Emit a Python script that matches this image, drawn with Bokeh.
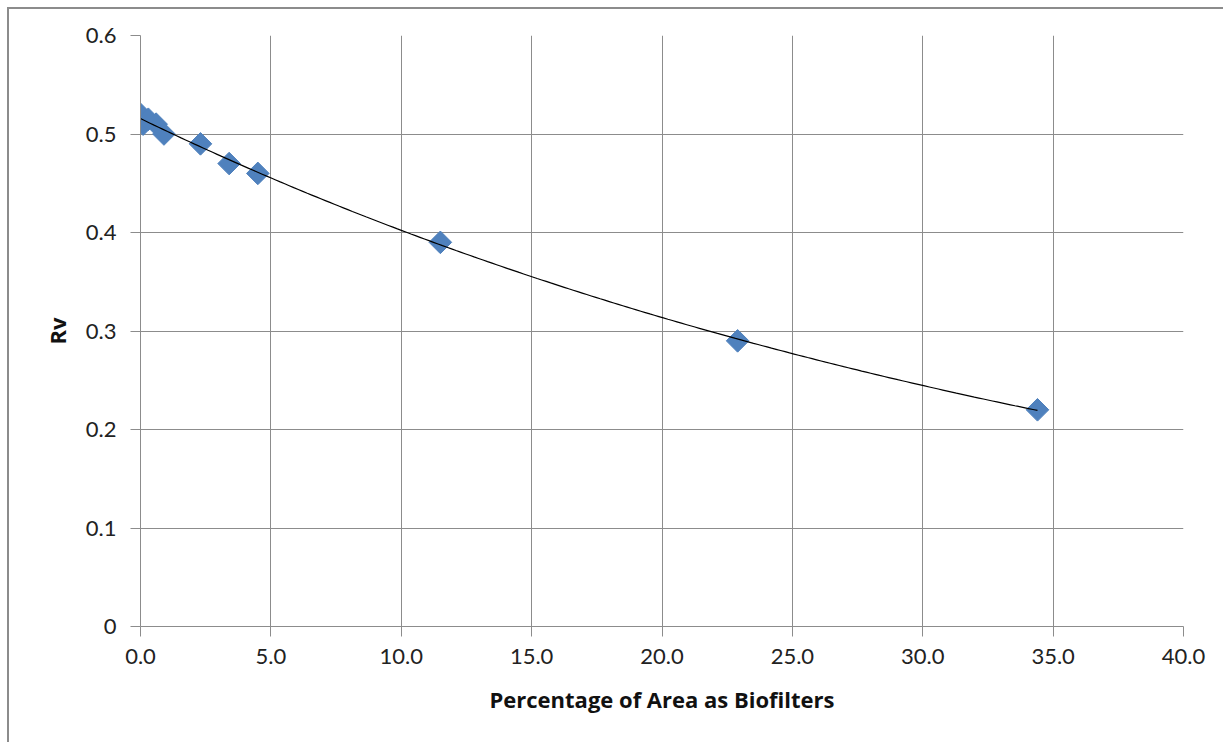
import numpy as np
from bokeh.plotting import figure
from bokeh.models import ColumnDataSource, FixedTicker, CustomJSTickFormatter, Range1d
from bokeh.embed import file_html
from bokeh.resources import INLINE

# Data
pct_area = [0.0, 0.1, 0.3, 0.6, 0.9, 2.3, 3.4, 4.5, 11.5, 22.9, 34.4]
rv = [0.52, 0.51, 0.515, 0.51, 0.50, 0.49, 0.47, 0.46, 0.39, 0.29, 0.22]
x_ticks = [0, 5, 10, 15, 20, 25, 30, 35, 40]
y_ticks = [0, 0.1, 0.2, 0.3, 0.4, 0.5, 0.6]

# Exponential trendline fitted to the data
xa = np.array(pct_area)
ya = np.array(rv)
b, ln_a = np.polyfit(xa, np.log(ya), 1)
tx = np.linspace(xa.min(), xa.max(), 200)
ty = np.exp(ln_a) * np.exp(b * tx)

FONT = "Lato"
GRID = "#8c8c8c"

p = figure(width=1216, height=735, output_backend="svg", toolbar_location=None,
           x_range=Range1d(0, 40), y_range=Range1d(0, 0.6),
           min_border_left=131, min_border_right=42, min_border_top=26, min_border_bottom=118)
p.margin = (7, 0, 0, 7)
p.styles = {"border-left": "2px solid #8c8c8c", "border-top": "2px solid #8c8c8c"}

p.outline_line_color = None
p.background_fill_color = "white"
p.border_fill_color = "white"

p.xaxis.ticker = FixedTicker(ticks=x_ticks)
p.yaxis.ticker = FixedTicker(ticks=y_ticks)
p.xgrid.ticker = FixedTicker(ticks=x_ticks)
p.ygrid.ticker = FixedTicker(ticks=y_ticks)
p.xaxis.formatter = CustomJSTickFormatter(code="return tick.toFixed(1);")
p.yaxis.formatter = CustomJSTickFormatter(code="return tick === 0 ? '0' : tick.toFixed(1);")

for g in (p.xgrid, p.ygrid):
    g.grid_line_color = GRID
    g.grid_line_width = 1

for ax in (p.xaxis, p.yaxis):
    ax.axis_line_color = GRID
    ax.major_tick_line_color = GRID
    ax.major_tick_out = 10
    ax.major_tick_in = 0
    ax.minor_tick_line_color = None
    ax.major_label_text_font = FONT
    ax.major_label_text_font_size = "22px"
    ax.major_label_text_color = "#222222"
    ax.axis_label_text_font = "Open Sans"
    ax.axis_label_text_font_size = "22px"
    ax.axis_label_text_font_style = "bold"
    ax.axis_label_text_color = "#111111"

p.xaxis.axis_label = "Percentage of Area as Biofilters"
p.yaxis.axis_label = "Rv"
p.xaxis.major_label_standoff = 12
p.yaxis.major_label_standoff = 14
p.xaxis.axis_label_standoff = 17
p.yaxis.axis_label_standoff = 11

src = ColumnDataSource(data=dict(x=pct_area, y=rv))
p.scatter("x", "y", source=src, marker="square", size=16, angle=np.pi / 4,
          fill_color="#4f81bd", line_color="#4f81bd")
p.line(tx, ty, line_color="black", line_width=1.2)

open("out.html", "w").write(file_html(p, INLINE))
